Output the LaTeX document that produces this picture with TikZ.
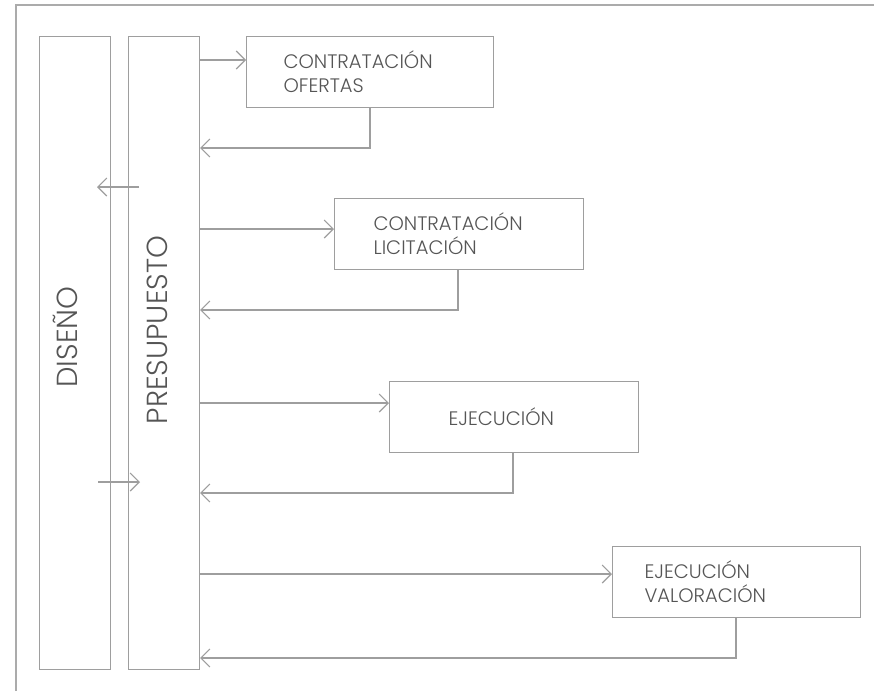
\documentclass[tikz,border=0pt]{standalone}
\usepackage{fontspec}
\setmainfont{Poppins Light}
\usetikzlibrary{arrows.meta}
\definecolor{ln}{HTML}{9E9E9E}
\definecolor{fr}{HTML}{ABABAB}
\definecolor{tx}{HTML}{555555}
\begin{document}
\begin{tikzpicture}[x=1pt,y=-1pt,
  line width=1.1pt,
  boxst/.style={draw=ln, rectangle, anchor=north west, inner sep=0pt},
  tallbox/.style={boxst, minimum width=71pt, minimum height=633pt},
  stepbox/.style={draw=ln, rectangle, anchor=north west, minimum height=71pt,
     align=left, text=tx, font=\fontsize{19.5}{24}\selectfont, inner ysep=0pt},
  bigtxt/.style={text=tx, rotate=90, anchor=base, inner sep=0pt, font=\fontsize{29}{34}\selectfont},
  arr/.style={draw=ln, -{Straight Barb[length=9pt,width=18pt]}}
]
\useasboundingbox (0,0) rectangle (874,691);
% frame
\draw[fr, line width=1.4pt] (16,691) -- (16,5) -- (874,5);
% tall boxes
\node[tallbox] (dis) at (39,36) {};
\node[tallbox] (pre) at (128,36) {};
\node[bigtxt] (distx) at (77,337) {DISEÑO};
\node[bigtxt] (pretx) at (167,330) {PRESUPUESTO};
% step boxes
\node[stepbox, inner xsep=37pt, text width=173pt] (b1) at (246,36) {CONTRATACIÓN\\OFERTAS};
\node[stepbox, inner xsep=39pt, text width=171pt] (b2) at (334,198) {CONTRATACIÓN\\LICITACIÓN};
\node[stepbox, inner xsep=59pt, text width=131pt] (b3) at (389,381) {EJECUCIÓN};
\node[stepbox, inner xsep=32pt, text width=184pt] (b4) at (612,546) {EJECUCIÓN\\VALORACIÓN};
% helper coordinates
\coordinate (i1) at (246,60);
\coordinate (i2) at (334,229);
\coordinate (i3) at (389,403);
\coordinate (i4) at (612,574);
\coordinate (r1) at (370,148);
\coordinate (r2) at (458,310);
\coordinate (r3) at (513,493);
\coordinate (r4) at (736,658);
\coordinate (dA) at (139,187);
\coordinate (dB) at (97,187);
\coordinate (pA) at (98,482);
\coordinate (pB) at (140,482);
% connectors
\foreach \n in {1,2,3,4}{
  \draw[arr] (pre.east |- i\n) -- (b\n.west |- i\n);
  \draw[arr] (b\n.south -| r\n) |- (pre.east |- r\n);
}
\draw[arr] (dA) -- (dB);
\draw[arr] (pA) -- (pB);
\end{tikzpicture}
\end{document}
